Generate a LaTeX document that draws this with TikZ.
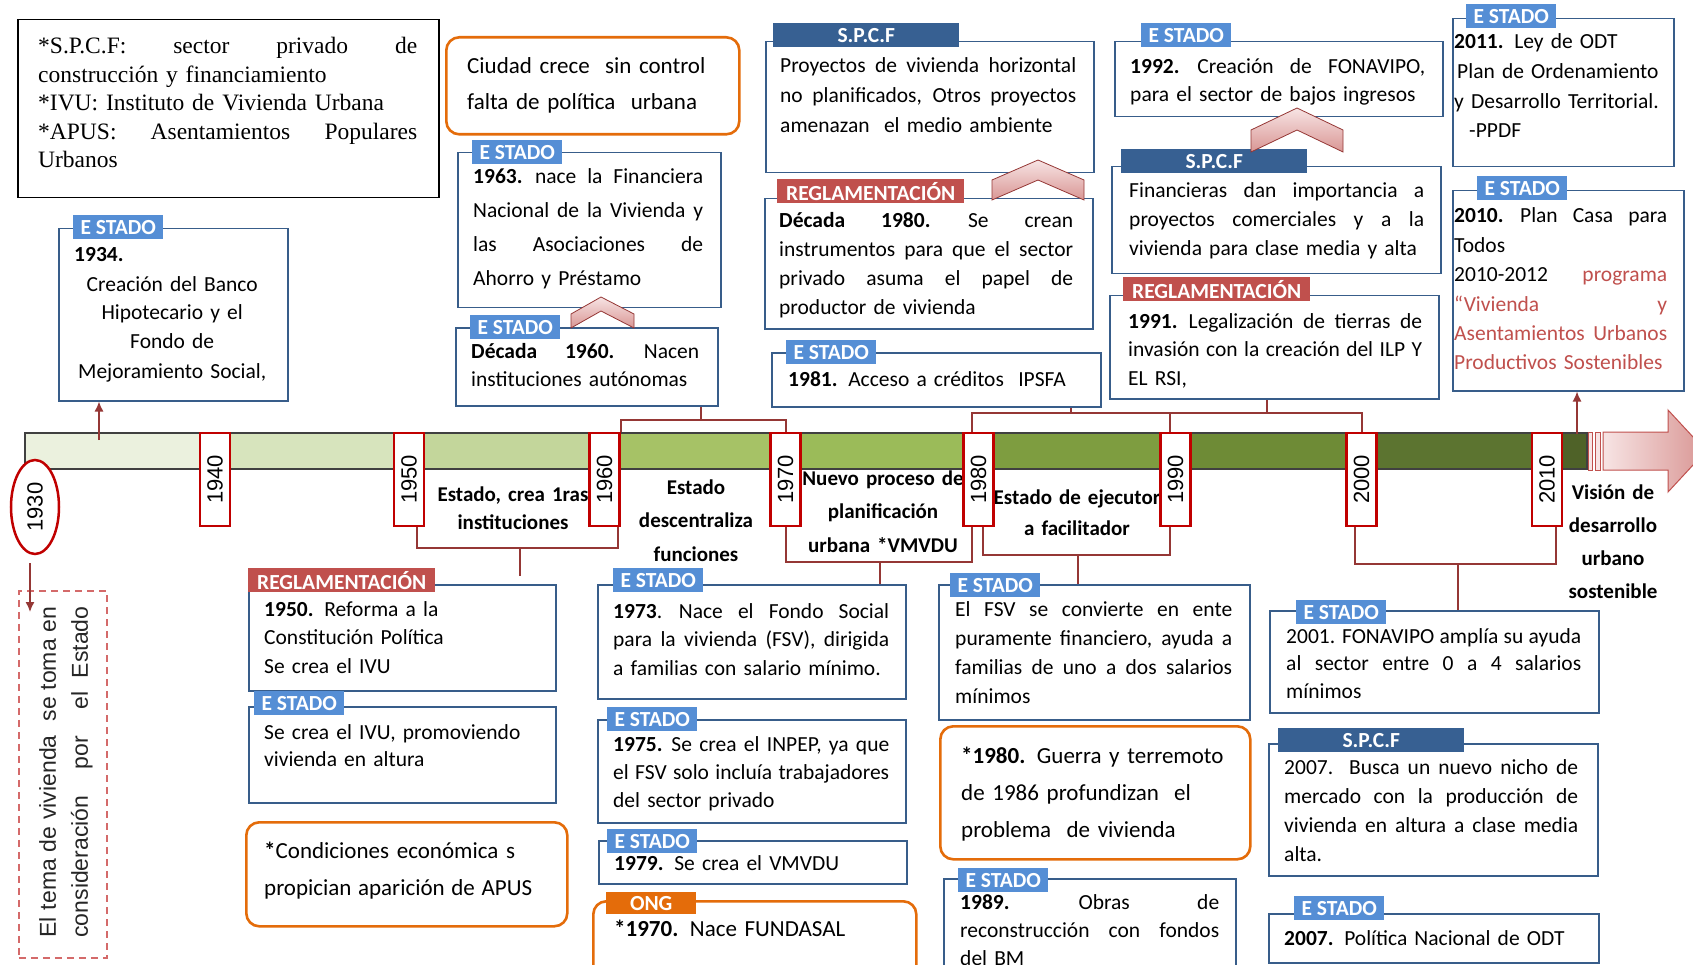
\documentclass[tikz,border=0pt]{standalone}
\usepackage{fontspec}
\setmainfont{Carlito}
\newfontfamily\leyendafont{Liberation Serif}
\newfontfamily\aniofont{Liberation Sans}
\usetikzlibrary{arrows.meta,shapes.geometric}

\definecolor{bordeazul}{HTML}{385D8A}
\definecolor{azulestado}{HTML}{558ED5}
\definecolor{azulspcf}{HTML}{376092}
\definecolor{rojoreg}{HTML}{C0504D}
\definecolor{naranja}{HTML}{E46C0A}
\definecolor{guinda}{HTML}{953735}
\definecolor{rojoanio}{HTML}{C00000}
\definecolor{rosa}{HTML}{F7E4E4}
\definecolor{rosaosc}{HTML}{D99694}
\definecolor{rojotenue}{HTML}{D46A6A}
\definecolor{barra1}{HTML}{EBF1DE}
\definecolor{barra2}{HTML}{D7E4BD}
\definecolor{barra3}{HTML}{C3D69B}
\definecolor{barra4}{HTML}{A6C266}
\definecolor{barra5}{HTML}{9BBB59}
\definecolor{barra6}{HTML}{7E9D40}
\definecolor{barra7}{HTML}{6E8B36}
\definecolor{barra8}{HTML}{5C7430}
\definecolor{barra9}{HTML}{4F6228}

% renglon justificado
\newcommand{\lin}[1]{{\spaceskip=0.226em plus 1fil\xspaceskip=0.3em plus 1fil\makebox[\hsize][s]{#1}}}
\newcommand{\linw}[2]{{\spaceskip=0.226em plus 1fil\xspaceskip=0.3em plus 1fil\makebox[#1][s]{#2}}}

\tikzset{
    caja/.style={
        draw=bordeazul,
        line width=1.5pt,
        fill=white,
        anchor=north west,
        inner sep=0pt
    },
    cajanaranja/.style={
        draw=naranja,
        line width=2.6pt,
        fill=white,
        rounded corners=13pt,
        anchor=north west,
        inner sep=0pt
    },
    pestana/.style={
        anchor=north west,
        minimum height=24pt,
        inner sep=0pt,
        text=white,
        font=\fontsize{21.5}{24}\selectfont\bfseries
    },
    estado/.style={pestana, fill=azulestado, minimum width=90pt},
    spcf/.style={pestana, fill=azulspcf, minimum width=186pt},
    regla/.style={pestana, fill=rojoreg, minimum width=187pt},
    ong/.style={pestana, fill=naranja, minimum width=90pt, minimum height=22pt},
    texto/.style={
        anchor=base west,
        inner sep=0pt,
        align=left,
        font=\fontsize{21.5}{29}\selectfont
    },
    anio/.style={
        draw=rojoanio,
        line width=2.5pt,
        fill=white,
        minimum width=30pt,
        minimum height=93pt,
        inner sep=0pt,
        font=\aniofont\fontsize{22}{22}\selectfont
    },
    etiqueta/.style={
        anchor=base,
        inner sep=0pt,
        align=center,
        text width=220pt,
        font=\fontsize{21}{33.5}\selectfont\bfseries
    },
    conector/.style={draw=guinda, line width=2pt},
    flecha/.style={draw=guinda, line width=1.5pt, -{Latex[length=10pt,width=9pt]}},
    chevron/.style={draw=guinda, line width=0.8pt, top color=rosa, bottom color=rosaosc}
}

\begin{document}
\begin{tikzpicture}[x=1pt, y=-1pt]
    \useasboundingbox (0,0) rectangle (1693,965);
    \clip (0,0) rectangle (1693,965);
    \fill[white] (0,0) rectangle (1693,965);

    % Linea de tiempo
    \fill[barra1] (25,433) rectangle (215,469);
    \fill[barra2] (215,433) rectangle (409,469);
    \fill[barra3] (409,433) rectangle (604,469);
    \fill[barra4] (604,433) rectangle (785,469);
    \fill[barra5] (785,433) rectangle (978,469);
    \fill[barra6] (978,433) rectangle (1175,469);
    \fill[barra7] (1175,433) rectangle (1361,469);
    \fill[barra8] (1361,433) rectangle (1547,469);
    \fill[barra9] (1547,433) rectangle (1587,469);
    \draw[line width=1.3pt, black!75] (25,433) rectangle (1587,469);
    \filldraw[fill=rosa, draw=rojoreg, line width=0.8pt] (1588,432) rectangle (1592,470);
    \filldraw[fill=rosa, draw=rojoreg, line width=0.8pt] (1595,432) rectangle (1600,470);
    \shade[left color=rosa, right color=rosaosc, draw=rojoreg, line width=1pt]
        (1603,432) -- (1668,432) -- (1668,410) -- (1706,451) -- (1668,492) -- (1668,470) -- (1603,470) -- cycle;

    % Etiquetas de etapas
    \node[etiqueta, font=\fontsize{21}{28}\selectfont\bfseries] (l1950) at (513,501) {Estado, crea 1ras\\instituciones};
    \node[etiqueta] (l1960) at (696,494) {Estado\\descentraliza\\funciones};
    \node[etiqueta] (l1970) at (883,485) {Nuevo proceso de\\planificación\\urbana *VMVDU};
    \node[etiqueta, font=\fontsize{21}{31}\selectfont\bfseries] (l1980) at (1077,504) {Estado de ejecutor\\a facilitador};
    \node[etiqueta, font=\fontsize{21}{33.3}\selectfont\bfseries] (l2010) at (1613,499) {Visión de\\desarrollo\\urbano\\sostenible};

    % Decadas
    \node[anio, ellipse, minimum width=48pt, minimum height=94pt] (a1930) at (35,507) {\rotatebox{90}{1930}};
    \node[anio] (a1940) at (215,479.5) {\rotatebox{90}{1940}};
    \node[anio] (a1950) at (409,479.5) {\rotatebox{90}{1950}};
    \node[anio] (a1960) at (604.5,479.5) {\rotatebox{90}{1960}};
    \node[anio] (a1970) at (785.5,479.5) {\rotatebox{90}{1970}};
    \node[anio] (a1980) at (978.5,479.5) {\rotatebox{90}{1980}};
    \node[anio] (a1990) at (1175.5,479.5) {\rotatebox{90}{1990}};
    \node[anio] (a2000) at (1361.5,479.5) {\rotatebox{90}{2000}};
    \node[anio] (a2010) at (1547,479.5) {\rotatebox{90}{2010}};

    % Leyenda
    \node[caja, draw=black, minimum width=421pt, minimum height=178pt] (leyenda) at (17,19) {};
    \node[texto, text width=379pt, font=\leyendafont\fontsize{23.5}{28.5}\selectfont] (tleyenda) at (38,54)
        {\lin{*S.P.C.F: sector privado de}\\construcción y financiamiento\\{*}IVU: Instituto de Vivienda Urbana\\\lin{*APUS: Asentamientos Populares}\\Urbanos};

    % Cajas superiores
    \node[cajanaranja, minimum width=293pt, minimum height=97pt] (ciudad) at (445,36) {};
    \node[texto, text width=260pt, font=\fontsize{23}{36}\selectfont] (tciudad) at (467,73.5)
        {Ciudad crece\ \ sin control\\falta de política\ \ urbana};

    \node[caja, minimum width=229pt, minimum height=172pt] (e1934) at (58,228) {};
    \node[estado] (p1934) at (73,215) {E STADO};
    \node[texto, text width=212pt, align=center] (t1934) at (66,262)
        {\makebox[\hsize][l]{\hspace{8pt}\textbf{1934.}}\\Creación del Banco\\Hipotecario y el\\Fondo de\\Mejoramiento Social,};

    \node[caja, minimum width=263pt, minimum height=155pt] (e1963) at (457,152) {};
    \node[estado] (p1963) at (472,140) {E STADO};
    \node[texto, text width=230pt, font=\fontsize{21.5}{33.7}\selectfont] (t1963) at (473,184)
        {\lin{\textbf{1963.} nace la Financiera}\\\lin{Nacional de la Vivienda y}\\\lin{las Asociaciones de}\\Ahorro y Préstamo};

    \node[caja, minimum width=262pt, minimum height=78pt] (d1960) at (455,327) {};
    \node[estado] (p1960) at (470,315) {E STADO};
    \node[texto, text width=228pt, font=\fontsize{21.5}{28}\selectfont] (t1960) at (471,358)
        {\lin{\textbf{Década 1960.} Nacen}\\instituciones autónomas};

    \node[caja, minimum width=328pt, minimum height=131pt] (s1970) at (765,41) {};
    \node[spcf] (q1970) at (773,23) {S.P.C.F};
    \node[texto, text width=296pt, font=\fontsize{21.5}{30}\selectfont] (ts1970) at (780,73)
        {\lin{Proyectos de vivienda horizontal}\\\lin{no planificados, Otros proyectos}\\amenazan\ \ el medio ambiente};

    \node[caja, minimum width=328pt, minimum height=130pt] (r1980) at (764,198) {};
    \node[regla] (g1980) at (777,179) {REGLAMENTACIÓN};
    \node[texto, text width=294pt] (tr1980) at (779,228)
        {\lin{\textbf{Década 1980.} Se crean}\\\lin{instrumentos para que el sector}\\\lin{privado asuma el papel de}\\productor de vivienda};

    \node[caja, minimum width=329pt, minimum height=54pt] (e1981) at (771,352) {};
    \node[estado] (p1981) at (786,340) {E STADO};
    \node[texto, text width=300pt] (t1981) at (788,386) {\textbf{1981.} Acceso a créditos\ \ IPSFA};

    \node[caja, minimum width=328pt, minimum height=75pt] (e1992) at (1114,41) {};
    \node[estado] (p1992) at (1141,23) {E STADO};
    \node[texto, text width=295pt, font=\fontsize{21.5}{28}\selectfont] (t1992) at (1130,74)
        {\lin{\textbf{1992.} Creación de FONAVIPO,}\\para el sector de bajos ingresos};

    \node[caja, minimum width=329pt, minimum height=107pt] (s1990) at (1111,166) {};
    \node[spcf] (q1990) at (1121,149) {S.P.C.F};
    \node[texto, text width=295pt] (ts1990) at (1129,198)
        {\lin{Financieras dan importancia a}\\\lin{proyectos comerciales y a la}\\vivienda para clase media y alta};

    \node[caja, minimum width=329pt, minimum height=103pt] (r1991) at (1109,295) {};
    \node[regla] (g1991) at (1123,277) {REGLAMENTACIÓN};
    \node[texto, text width=294pt, font=\fontsize{21.5}{28.5}\selectfont] (tr1991) at (1128,328)
        {\lin{\textbf{1991.} Legalización de tierras de}\\\lin{invasión con la creación del ILP Y}\\EL RSI,};

    \node[caja, minimum width=221pt, minimum height=148pt] (e2011) at (1452,18) {};
    \node[estado] (p2011) at (1466,4) {E STADO};
    \node[texto, text width=215pt, font=\fontsize{21.5}{29.6}\selectfont] (t2011) at (1454,49)
        {\textbf{2011.} Ley de ODT\\\hspace*{3pt}Plan de Ordenamiento\\y Desarrollo Territorial.\\\hspace*{15pt}-PPDF};

    \node[caja, minimum width=231pt, minimum height=200pt] (e2010) at (1452,190) {};
    \node[estado] (p2010) at (1477,176) {E STADO};
    \node[texto, text width=213pt, font=\fontsize{21.5}{29.4}\selectfont] (t2010) at (1454,223)
        {\lin{\textbf{2010.} Plan Casa para}\\Todos\\\lin{2010-2012 \textcolor{rojoreg}{programa}}\\\textcolor{rojoreg}{\lin{“Vivienda y}}\\\textcolor{rojoreg}{\lin{Asentamientos Urbanos}}\\\textcolor{rojoreg}{Productivos Sostenibles}};

    % Cajas inferiores
    \node[caja, draw=rojotenue, dash pattern=on 7pt off 5pt, minimum width=88pt, minimum height=367pt] (tema) at (18,590) {};
    \node[rotate=90, inner sep=0pt, align=left, text width=331pt, text=black!85, font=\aniofont\fontsize{23}{32}\selectfont] (ttema) at (66,772)
        {\lin{El tema de vivienda\ \ se toma en}\\\lin{consideración\ \ por\ \ el Estado}};

    \node[caja, minimum width=307pt, minimum height=106pt] (r1950) at (248,584) {};
    \node[regla] (g1950) at (248,568) {REGLAMENTACIÓN};
    \node[texto, text width=280pt, font=\fontsize{21.5}{28.5}\selectfont] (tr1950) at (264,616)
        {\textbf{1950.} Reforma a la\\Constitución Política\\Se crea el IVU};

    \node[caja, minimum width=307pt, minimum height=96pt] (e1950) at (248,706) {};
    \node[estado] (p1950) at (254,691) {E STADO};
    \node[texto, text width=280pt, font=\fontsize{21.5}{27}\selectfont] (t1950) at (264,739)
        {Se crea el IVU, promoviendo\\vivienda en altura};

    \node[cajanaranja, minimum width=321pt, minimum height=104pt] (apus) at (245,821) {};
    \node[texto, text width=290pt, font=\fontsize{23}{37}\selectfont] (tapus) at (264,858.5)
        {\linw{251pt}{\textbf{*}Condiciones económica s}\\\linw{268pt}{propician aparición de APUS}};

    \node[caja, minimum width=308pt, minimum height=114pt] (e1973) at (597,584) {};
    \node[estado] (p1973) at (613,568) {E STADO};
    \node[texto, text width=276pt, font=\fontsize{21.5}{28.5}\selectfont] (t1973) at (613,618)
        {\lin{\textbf{1973}. Nace el Fondo Social}\\\lin{para la vivienda (FSV), dirigida}\\a familias con salario mínimo.};

    \node[caja, minimum width=308pt, minimum height=103pt] (e1975) at (597,719) {};
    \node[estado] (p1975) at (607,707) {E STADO};
    \node[texto, text width=276pt, font=\fontsize{21.5}{28}\selectfont] (t1975) at (613,751)
        {\lin{\textbf{1975.} Se crea el INPEP, ya que}\\\lin{el FSV solo incluía trabajadores}\\del sector privado};

    \node[caja, minimum width=308pt, minimum height=43pt] (e1979) at (598,840) {};
    \node[estado] (p1979) at (607,829) {E STADO};
    \node[texto, text width=280pt] (t1979) at (614,870) {\textbf{1979.} Se crea el VMVDU};

    \node[cajanaranja, minimum width=323pt, minimum height=100pt] (o1970) at (592,900) {};
    \node[ong] (k1970) at (606,892) {ONG};
    \node[texto, text width=290pt, font=\fontsize{23}{30}\selectfont] (to1970) at (614,936) {\textbf{*1970.} Nace FUNDASAL};

    \node[caja, minimum width=311pt, minimum height=135pt] (fsv) at (938,584) {};
    \node[estado] (pfsv) at (950,573) {E STADO};
    \node[texto, text width=277pt] (tfsv) at (955,616)
        {\lin{El FSV se convierte en ente}\\\lin{puramente financiero, ayuda a}\\\lin{familias de uno a dos salarios}\\mínimos};

    \node[cajanaranja, minimum width=310pt, minimum height=133pt] (guerra) at (939,725) {};
    \node[texto, text width=280pt, font=\fontsize{23}{37}\selectfont] (tguerra) at (961,763.5)
        {\textbf{*1980.} Guerra y terremoto\\de 1986 profundizan\ \ el\\problema\ \ de vivienda};

    \node[caja, minimum width=292pt, minimum height=120pt] (e1989) at (943,878) {};
    \node[estado] (p1989) at (958,868) {E STADO};
    \node[texto, text width=259pt, font=\fontsize{21.5}{28}\selectfont] (t1989) at (960,909)
        {\lin{\textbf{1989.} Obras de}\\\lin{reconstrucción con fondos}\\del BM};

    \node[caja, minimum width=329pt, minimum height=102pt] (e2001) at (1269,610) {};
    \node[estado] (p2001) at (1296,600) {E STADO};
    \node[texto, text width=295pt, font=\fontsize{21.5}{27.5}\selectfont] (t2001) at (1286,643)
        {\lin{2001. FONAVIPO amplía su ayuda}\\\lin{al sector entre 0 a 4 salarios}\\mínimos};

    \node[caja, minimum width=329pt, minimum height=132pt] (s2007) at (1268,743) {};
    \node[spcf] (q2007) at (1278,728) {S.P.C.F};
    \node[texto, text width=294pt] (ts2007) at (1284,774)
        {\lin{2007.\ \ Busca un nuevo nicho de}\\\lin{mercado con la producción de}\\\lin{vivienda en altura a clase media}\\alta.};

    \node[caja, minimum width=330pt, minimum height=49pt] (e2007) at (1268,913) {};
    \node[estado] (p2007) at (1294,896) {E STADO};
    \node[texto, text width=300pt] (t2007) at (1284,945) {\textbf{2007.} Política Nacional de ODT};

    % Chevrones
    \path[chevron] (571,314) -- (601,297) -- (634,314) -- (634,328) -- (601,311) -- (571,328) -- cycle;
    \path[chevron] (992,180) -- (1038,160) -- (1084,180) -- (1084,200) -- (1038,180) -- (992,200) -- cycle;
    \path[chevron] (1251,130) -- (1297,108) -- (1343,130) -- (1343,152) -- (1297,130) -- (1251,152) -- cycle;

    % Conectores sobre la barra
    \coordinate (s1960) at (701,420);
    \draw[conector] (a1960.north east) |- (s1960) -| (a1970.north);
    \draw[conector] (s1960) -- (s1960 |- d1960.south);
    \coordinate (s1981) at (1071,413);
    \coordinate (s1991) at (1267,413);
    \draw[conector] ([xshift=-7pt]a1980.north) |- (s1981) -- (s1991) -| (a2000.north);
    \draw[conector] ([xshift=-6pt]a1990.north) -- ([xshift=-6pt]a1990.north |- s1981);
    \draw[conector] (s1981) -- (s1981 |- e1981.south);
    \draw[conector] (s1991) -- (s1991 |- r1991.south);

    % Conectores bajo la barra
    \coordinate (i1950) at (520,548);
    \coordinate (k1950) at (520,576);
    \draw[conector] ([xshift=8pt]a1950.south) |- (i1950) -| ([xshift=13pt]a1960.south);
    \draw[conector] (i1950) -- (k1950);
    \coordinate (i1970) at (880,562);
    \draw[conector] (a1970.south) |- (i1970) -| ([xshift=-7pt]a1980.south);
    \draw[conector] (i1970) -- (i1970 |- e1973.north);
    \coordinate (i1980) at (1078,555);
    \draw[conector] ([xshift=4pt]a1980.south) |- (i1980) -| ([xshift=-6pt]a1990.south);
    \draw[conector] (i1980) -- (i1980 |- fsv.north);
    \coordinate (i2000) at (1458,564);
    \draw[conector] ([xshift=-7pt]a2000.south) |- (i2000) -| ([xshift=9pt]a2010.south);
    \draw[conector] (i2000) -- (i2000 |- e2001.north);

    % Flechas
    \coordinate (f1934) at (99,440);
    \draw[flecha] (f1934) -- (f1934 |- e1934.south);
    \coordinate (f1930) at (30,612);
    \draw[flecha] ([yshift=-8pt]a1930.south -| f1930) -- (f1930);
    \coordinate (f2010) at (1577,434);
    \draw[flecha] (f2010) -- (f2010 |- e2010.south);
\end{tikzpicture}
\end{document}
